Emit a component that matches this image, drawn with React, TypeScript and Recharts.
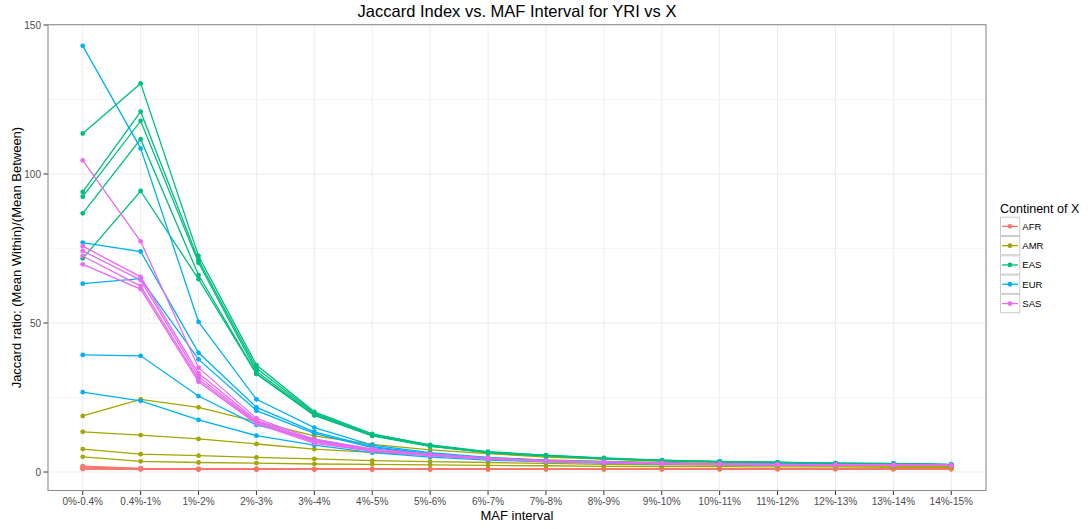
import React from 'react';
import { LineChart, Line, XAxis, YAxis, CartesianGrid, ReferenceLine } from 'recharts';

const CATEGORIES = ['0%-0.4%', '0.4%-1%', '1%-2%', '2%-3%', '3%-4%', '4%-5%', '5%-6%', '6%-7%', '7%-8%', '8%-9%', '9%-10%', '10%-11%', '11%-12%', '12%-13%', '13%-14%', '14%-15%'];

const CONTINENTS = ['AFR', 'AMR', 'EAS', 'EUR', 'SAS'];
const COLORS = ['#F8766D', '#A3A500', '#00BF7D', '#00B0F6', '#E76BF3'];

const Y_TICKS = [0, 50, 100, 150];
const Y_MINOR = [25, 75, 125];

const AFR_LINES = [
  [2.0, 1.2, 1.1, 1.1, 1.0, 1.0, 1.0, 1.0, 1.0, 1.0, 1.1, 1.1, 1.1, 1.1, 1.1, 1.2],
  [1.7, 1.1, 1.0, 1.0, 1.0, 1.0, 1.0, 1.0, 1.0, 1.0, 1.0, 1.1, 1.1, 1.1, 1.1, 1.1],
  [1.4, 1.0, 1.0, 1.0, 1.0, 1.0, 1.0, 1.0, 1.0, 1.0, 1.0, 1.0, 1.0, 1.1, 1.1, 1.1],
  [1.2, 1.0, 0.9, 0.9, 0.9, 0.9, 0.9, 0.9, 1.0, 1.0, 1.0, 1.0, 1.0, 1.0, 1.0, 1.0],
  [1.1, 0.95, 0.9, 0.9, 0.9, 0.9, 0.9, 0.9, 0.9, 0.9, 1.0, 1.0, 1.0, 1.0, 1.0, 1.0],
  [1.0, 0.9, 0.9, 0.9, 0.9, 0.9, 0.9, 0.9, 0.9, 0.9, 0.9, 0.9, 1.0, 1.0, 1.0, 1.0],
];

const AMR_LINES = [
  [18.8, 24.4, 21.7, 16.9, 12.1, 9.3, 7.4, 6.2, 5.0, 4.3, 3.7, 3.3, 3.0, 2.8, 2.7, 2.5],
  [13.5, 12.4, 11.1, 9.4, 7.7, 6.6, 5.6, 4.8, 4.1, 3.6, 3.2, 2.9, 2.7, 2.6, 2.4, 2.3],
  [7.7, 6.0, 5.5, 4.9, 4.4, 3.8, 3.5, 3.2, 2.9, 2.6, 2.4, 2.3, 2.2, 2.1, 2.0, 1.9],
  [5.1, 3.6, 3.2, 3.0, 2.7, 2.6, 2.4, 2.2, 2.1, 1.9, 1.8, 1.8, 1.7, 1.7, 1.6, 1.6],
];

const EAS_LINES = [
  [113.6, 130.4, 72.5, 35.9, 20.2, 12.8, 9.1, 6.8, 5.7, 4.7, 4.0, 3.6, 3.3, 3.0, 2.9, 2.6],
  [94.0, 120.9, 71.1, 34.8, 19.8, 12.6, 9.0, 6.7, 5.6, 4.6, 3.9, 3.5, 3.2, 2.9, 2.8, 2.5],
  [92.4, 117.8, 70.2, 33.7, 19.5, 12.4, 8.8, 6.6, 5.5, 4.5, 3.9, 3.5, 3.2, 2.9, 2.8, 2.5],
  [86.8, 111.7, 66.1, 33.0, 19.1, 12.2, 8.7, 6.5, 5.4, 4.5, 3.8, 3.4, 3.1, 2.9, 2.7, 2.4],
  [71.7, 94.3, 64.7, 32.9, 19.0, 12.1, 8.6, 6.5, 5.4, 4.4, 3.8, 3.4, 3.1, 2.8, 2.7, 2.4],
];

const EUR_LINES = [
  [143.0, 108.6, 50.4, 24.4, 14.9, 9.0, 6.5, 4.9, 3.9, 3.5, 3.0, 2.8, 2.6, 2.6, 2.5, 2.4],
  [77.0, 74.0, 40.0, 21.7, 13.5, 8.5, 6.2, 4.7, 3.8, 3.4, 2.9, 2.7, 2.6, 2.5, 2.5, 2.4],
  [63.2, 64.9, 37.8, 20.6, 13.0, 8.2, 6.0, 4.6, 3.7, 3.3, 2.9, 2.7, 2.6, 2.5, 2.4, 2.3],
  [39.3, 39.0, 25.5, 15.8, 11.0, 7.4, 5.6, 4.4, 3.6, 3.2, 2.8, 2.6, 2.5, 2.4, 2.4, 2.3],
  [26.8, 23.9, 17.5, 12.2, 9.0, 6.5, 5.0, 4.0, 3.4, 3.0, 2.7, 2.5, 2.4, 2.4, 2.3, 2.2],
];

const SAS_LINES = [
  [104.6, 77.4, 35.0, 18.0, 11.0, 7.8, 6.0, 4.7, 3.8, 3.4, 3.0, 2.7, 2.6, 2.5, 2.4, 2.3],
  [75.8, 65.5, 33.1, 17.3, 10.6, 7.5, 5.8, 4.6, 3.7, 3.3, 2.9, 2.7, 2.5, 2.4, 2.4, 2.3],
  [74.2, 64.4, 32.0, 16.8, 10.3, 7.3, 5.7, 4.5, 3.7, 3.3, 2.9, 2.6, 2.5, 2.4, 2.3, 2.2],
  [72.5, 62.4, 31.0, 16.5, 10.0, 7.1, 5.6, 4.4, 3.6, 3.2, 2.8, 2.6, 2.5, 2.4, 2.3, 2.2],
  [69.7, 61.4, 30.3, 16.2, 9.6, 7.0, 5.5, 4.3, 3.6, 3.2, 2.8, 2.6, 2.4, 2.3, 2.3, 2.2],
];

const GROUPS = [AFR_LINES, AMR_LINES, EAS_LINES, EUR_LINES, SAS_LINES];

type SeriesDef = { key: string; color: string };
const SERIES: SeriesDef[] = [];
GROUPS.forEach((lines, gi) => {
  lines.forEach((_, li) => {
    SERIES.push({ key: `${CONTINENTS[gi]}_${li}`, color: COLORS[gi] });
  });
});

const DATA = CATEGORIES.map((cat, i) => {
  const row: Record<string, string | number> = { cat };
  GROUPS.forEach((lines, gi) => {
    lines.forEach((vals, li) => {
      row[`${CONTINENTS[gi]}_${li}`] = vals[i];
    });
  });
  return row;
});

// Page-level layout (the chart layer is fixed at the viewport's top-left corner)
const W = 1088;
const H = 529;
const M_TOP = 24.7;
const M_RIGHT = 102;
const Y_W = 48;
const X_H = 38.5;
const PLOT_W = W - Y_W - M_RIGHT;
const PLOT_H = H - M_TOP - X_H;
const STEP = PLOT_W / (CATEGORIES.length - 1 + 1.2);
const PAD = STEP * 0.6;

const FONT = '"Liberation Sans", Arial, Helvetica, sans-serif';

export default function App() {
  const legendX = 1000;
  const legendTop = 216.7;
  const keyH = 19.3;
  return (
    <div style={{ width: W - 16, height: H - 16 }}>
      <div style={{ position: 'fixed', left: 0, top: 0, width: W, height: H, fontFamily: FONT, background: '#fff' }}>
        <LineChart
          width={W}
          height={H}
          data={DATA}
          margin={{ top: M_TOP, right: M_RIGHT, bottom: 0, left: 0 }}
        >
          <CartesianGrid stroke="#ececec" strokeWidth={1} />
          {Y_MINOR.map((v) => (
            <ReferenceLine key={v} y={v} stroke="#f5f5f5" strokeWidth={1} />
          ))}
          <XAxis
            dataKey="cat"
            type="category"
            scale="point"
            padding={{ left: PAD, right: PAD }}
            interval={0}
            height={X_H}
            axisLine={false}
            tickLine={{ stroke: '#333333' }}
            tickSize={4.5}
            tickMargin={3}
            tick={{ fontSize: 10, fill: '#4d4d4d', fontFamily: FONT }}
          />
          <YAxis
            type="number"
            domain={[-6.2, 150.1]}
            ticks={Y_TICKS}
            allowDataOverflow
            width={Y_W}
            axisLine={false}
            tickLine={{ stroke: '#333333' }}
            tickSize={4.5}
            tickMargin={2.5}
            tick={{ fontSize: 10, fill: '#4d4d4d', fontFamily: FONT }}
          />
          {SERIES.map((s) => (
            <Line
              key={s.key}
              type="linear"
              dataKey={s.key}
              stroke={s.color}
              strokeWidth={1.3}
              dot={{ r: 2.4, fill: s.color, stroke: s.color, strokeWidth: 0 }}
              activeDot={false}
              isAnimationActive={false}
            />
          ))}
        </LineChart>
        <svg
          width={W}
          height={H}
          style={{ position: 'absolute', left: 0, top: 0, pointerEvents: 'none' }}
        >
          <rect x={Y_W} y={M_TOP} width={PLOT_W} height={PLOT_H} fill="none" stroke="#8c8c8c" strokeWidth={1} />
          <text x={Y_W + PLOT_W / 2} y={16.8} textAnchor="middle" fontSize={16.5} fill="#000" fontFamily={FONT}>
            Jaccard Index vs. MAF Interval for YRI vs X
          </text>
          <text x={Y_W + PLOT_W / 2} y={520} textAnchor="middle" fontSize={13} fill="#000" fontFamily={FONT}>
            MAF interval
          </text>
          <text
            x={0}
            y={0}
            transform={`translate(21, ${M_TOP + PLOT_H / 2}) rotate(-90)`}
            textAnchor="middle"
            fontSize={13}
            fill="#000"
            fontFamily={FONT}
          >
            Jaccard ratio: (Mean Within)/(Mean Between)
          </text>
          <text x={legendX} y={212.5} fontSize={12.5} fill="#000" fontFamily={FONT}>
            Continent of X
          </text>
          {CONTINENTS.map((c, i) => {
            const y0 = legendTop + i * keyH;
            const cy = y0 + keyH / 2;
            return (
              <g key={c}>
                <rect x={legendX + 0.5} y={y0 + 0.5} width={19.3} height={keyH - 1} fill="#fff" stroke="#cccccc" strokeWidth={1} />
                <line x1={legendX + 2} x2={legendX + 18} y1={cy} y2={cy} stroke={COLORS[i]} strokeWidth={1.3} />
                <circle cx={legendX + 10} cy={cy} r={2.4} fill={COLORS[i]} />
                <text x={legendX + 22.3} y={cy + 3.5} fontSize={9.5} fill="#000" fontFamily={FONT}>
                  {c}
                </text>
              </g>
            );
          })}
        </svg>
      </div>
    </div>
  );
}
